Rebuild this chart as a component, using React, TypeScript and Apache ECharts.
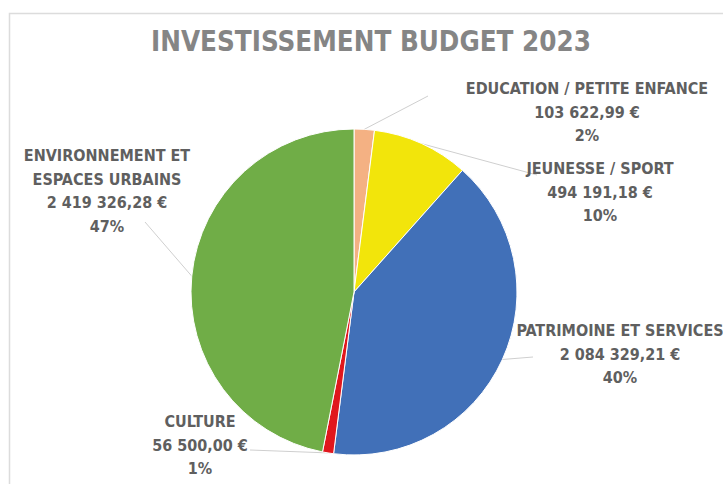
import React, { useEffect, useRef } from "react";
import * as echarts from "echarts";

const categories = [
  "EDUCATION / PETITE ENFANCE",
  "JEUNESSE / SPORT",
  "PATRIMOINE ET SERVICES",
  "CULTURE",
  "ENVIRONNEMENT ET\nESPACES URBAINS",
];
const amounts = [103622.99, 494191.18, 2084329.21, 56500.0, 2419326.28];
const colors = ["#F4B183", "#F2E50B", "#4170B8", "#E0171D", "#70AD47"];
const titleText = "INVESTISSEMENT BUDGET 2023";

// label block anchors (center x, top y)
const labelAnchors: [number, number][] = [
  [587, 77],
  [600, 157],
  [620, 319],
  [200, 410],
  [107, 144],
];
// leader line end, relative to the label anchor
const lineEndOffsets: [number, number][] = [
  [-159, 19],
  [-63, 18],
  [-87, 38],
  [50, 40],
  [38, 78],
];

function formatEuro(v: number): string {
  const [intPart, dec] = v.toFixed(2).split(".");
  const withSep = intPart.replace(/\B(?=(\d{3})+(?!\d))/g, " ");
  return `${withSep},${dec} €`;
}

export default function App() {
  const ref = useRef<HTMLDivElement>(null);
  useEffect(() => {
    document.body.style.margin = "0";
    if (!ref.current) return;
    const chart = echarts.init(ref.current, null, { renderer: "svg" });
    const font = "'Liberation Sans Narrow', 'DejaVu Sans Condensed', 'Open Sans', sans-serif";
    const center = [354, 292];
    const radius = 163;
    const total = amounts.reduce((a, b) => a + b, 0);
    chart.setOption({
      animation: false,
      backgroundColor: "#ffffff",
      title: {
        text: titleText,
        left: 366,
        top: 22,
        textAlign: "center",
        textStyle: {
          fontFamily: font,
          fontWeight: "bold",
          fontSize: 27.5,
          color: "#858585",
        },
      },
      graphic: [
        {
          type: "rect",
          shape: { x: 9.5, y: 13.5, width: 800, height: 600 },
          style: { fill: "none", stroke: "#dcdcdc", lineWidth: 1.5 },
          silent: true,
        },
      ],
      series: [
        {
          type: "pie",
          center,
          radius: [0, radius],
          startAngle: 90,
          clockwise: true,
          avoidLabelOverlap: false,
          itemStyle: { borderColor: "#ffffff", borderWidth: 1 },
          label: {
            show: true,
            fontFamily: font,
            fontWeight: "bold",
            fontSize: 16,
            lineHeight: 23.5,
            color: "#5f5f5f",
            align: "center",
            formatter: (p: any) =>
              `${p.name}\n${formatEuro(p.value)}\n${Math.round(p.percent)}%`,
          },
          labelLine: {
            show: true,
            length: 0,
            length2: 0,
            lineStyle: { color: "#cfcfcf", width: 1 },
          },
          labelLayout: (params: any) => {
            const i = params.dataIndex;
            const a = labelAnchors[i];
            const off = lineEndOffsets[i];
            let start: number[];
            const pts = params.labelLinePoints;
            if (pts && pts.length) {
              start = pts[0];
            } else {
              let before = 0;
              for (let k = 0; k < i; k++) before += amounts[k];
              const mid = ((before + amounts[i] / 2) / total) * Math.PI * 2;
              start = [
                center[0] + radius * Math.sin(mid),
                center[1] - radius * Math.cos(mid),
              ];
            }
            const end = [a[0] + off[0], a[1] + off[1]];
            return {
              x: a[0],
              y: a[1],
              align: "center",
              verticalAlign: "top",
              labelLinePoints: [start, end, end],
            };
          },
          data: categories.map((name, i) => ({
            name,
            value: amounts[i],
            itemStyle: { color: colors[i] },
          })),
        },
      ],
    });
    return () => chart.dispose();
  }, []);
  return (
    <div
      ref={ref}
      style={{ position: "fixed", left: 0, top: 0, width: 723, height: 484 }}
    />
  );
}
